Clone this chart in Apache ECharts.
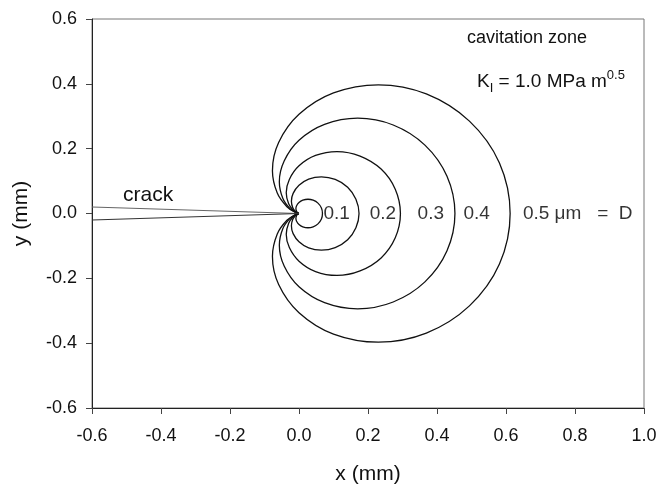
<!DOCTYPE html>
<html>
<head>
<meta charset="utf-8">
<script src="https://cdn.jsdelivr.net/npm/echarts@6/dist/echarts.min.js"></script>
<style>
  html, body { margin: 0; padding: 0; background: #fff; }
  #chart { width: 660px; height: 490px; }
</style>
</head>
<body>
<div id="chart"></div>
<script>
// curve labels (D in um)
const dValues = ['0.1', '0.2', '0.3', '0.4', '0.5 \u03bcm   =  D'];

// upper halves of the cavitation zones (x, y in mm)
// from the right-hand tip back round to the crack tip
const zone01 = [[0.068, 0], [0.065, 0.017], [0.055, 0.032], [0.041, 0.041], [0.026, 0.044], [0.011, 0.041], [0, 0.034],
  [-0.007, 0.024], [-0.009, 0.015], [-0.007, 0.007], [-0.004, 0.002], [-0.001, 0.0005], [0, 0]];
const zone02 = [[0.174, 0], [0.165, 0.044], [0.141, 0.081], [0.105, 0.105], [0.065, 0.113], [0.028, 0.106], [0, 0.087],
  [-0.017, 0.062], [-0.022, 0.038], [-0.018, 0.018], [-0.010, 0.006], [-0.003, 0.001], [0, 0]];
const zone03 = [[0.294, 0], [0.279, 0.075], [0.238, 0.137], [0.177, 0.177], [0.110, 0.191], [0.048, 0.179], [0, 0.147],
  [-0.028, 0.105], [-0.037, 0.064], [-0.030, 0.030], [-0.017, 0.010], [-0.005, 0.001], [0, 0]];
const zone04 = [[0.452, 0], [0.429, 0.115], [0.365, 0.211], [0.273, 0.273], [0.170, 0.294], [0.074, 0.275], [0, 0.226],
  [-0.043, 0.162], [-0.057, 0.098], [-0.047, 0.047], [-0.026, 0.015], [-0.007, 0.002], [0, 0]];
const zone05 = [[0.612, 0], [0.581, 0.156], [0.494, 0.285], [0.369, 0.369], [0.230, 0.397], [0.100, 0.372], [0, 0.306],
  [-0.059, 0.219], [-0.077, 0.132], [-0.063, 0.063], [-0.035, 0.021], [-0.010, 0.003], [0, 0]];

// crack faces
const crackUpper = [[-0.6, 0.02], [0, 0]];
const crackLower = [[-0.6, -0.02], [0, 0]];

// where the D labels sit along y = 0
const labelX = [0.109, 0.243, 0.382, 0.515, 0.649];

const FONT = '"Liberation Sans", Arial, sans-serif';

// mirror the upper half to get the closed zone, start and end at the crack tip
function closeZone(upper) {
  const lower = upper.slice().reverse().map(p => [p[0], -p[1]]);
  return lower.concat(upper.slice(1));
}

const zones = [zone01, zone02, zone03, zone04, zone05];

const chart = echarts.init(document.getElementById('chart'), null, { renderer: 'canvas' });

const series = zones.map((z, i) => ({
  name: 'D ' + dValues[i],
  type: 'line',
  data: closeZone(z),
  smooth: 0.35,
  showSymbol: false,
  lineStyle: { color: '#111', width: 1.3 },
  z: 3
}));

series.push({
  type: 'line', data: crackUpper, showSymbol: false,
  lineStyle: { color: '#666', width: 1.2 }
});
series.push({
  type: 'line', data: crackLower, showSymbol: false,
  lineStyle: { color: '#333', width: 1.2 }
});

series.push({
  type: 'scatter',
  symbolSize: 0,
  data: labelX.map((x, i) => ({
    value: [x, 0],
    name: dValues[i],
    label: i === 4 ? { align: 'left' } : {}
  })),
  label: {
    show: true,
    position: 'inside',
    formatter: p => p.name,
    color: '#000',
    textBorderWidth: 0,
    fontFamily: FONT,
    fontSize: 19
  },
  emphasis: { disabled: true },
  z: 5
});

chart.setOption({
  animation: false,
  backgroundColor: '#fff',
  grid: {
    left: 92, top: 19, width: 552, height: 395,
    show: true, borderColor: '#777', borderWidth: 1
  },
  xAxis: {
    type: 'value', min: -0.6, max: 1.0, interval: 0.2,
    name: 'x (mm)', nameLocation: 'middle', nameGap: 56,
    nameTextStyle: { fontFamily: FONT, fontSize: 21, color: '#111' },
    axisLine: { onZero: false, lineStyle: { color: '#222', width: 1 } },
    axisTick: { inside: false, length: 6, lineStyle: { color: '#444' } },
    axisLabel: { margin: 19, fontFamily: FONT, fontSize: 18, color: '#111',
      formatter: v => v.toFixed(1) },
    splitLine: { show: false }
  },
  yAxis: {
    type: 'value', min: -0.6, max: 0.6, interval: 0.2,
    name: 'y (mm)', nameLocation: 'middle', nameGap: 60,
    nameTextStyle: { fontFamily: FONT, fontSize: 21, color: '#111' },
    axisLine: { onZero: false, lineStyle: { color: '#222', width: 1 } },
    axisTick: { inside: false, length: 6, lineStyle: { color: '#444' } },
    axisLabel: { margin: 15, fontFamily: FONT, fontSize: 18, color: '#111',
      formatter: v => v.toFixed(1) },
    splitLine: { show: false }
  },
  graphic: [
    {
      type: 'text', x: 467, y: 38,
      style: { text: 'cavitation zone', fontFamily: FONT, fontSize: 18, fill: '#111',
        align: 'left', verticalAlign: 'middle' }
    },
    {
      type: 'text', x: 477, y: 82,
      style: {
        text: '{n|K}{sub|I}{n| = 1.0 MPa m}{sup|0.5}',
        align: 'left', verticalAlign: 'middle',
        rich: {
          n: { fontFamily: FONT, fontSize: 19, lineHeight: 26, fill: '#111' },
          sub: { fontFamily: FONT, fontSize: 13, lineHeight: 14, verticalAlign: 'bottom', fill: '#111' },
          sup: { fontFamily: FONT, fontSize: 13, lineHeight: 14, verticalAlign: 'top', fill: '#111' }
        }
      }
    },
    {
      type: 'text', x: 123, y: 195,
      style: { text: 'crack', fontFamily: FONT, fontSize: 21, fill: '#111',
        align: 'left', verticalAlign: 'middle' }
    }
  ],
  series: series
});
</script>
</body>
</html>
